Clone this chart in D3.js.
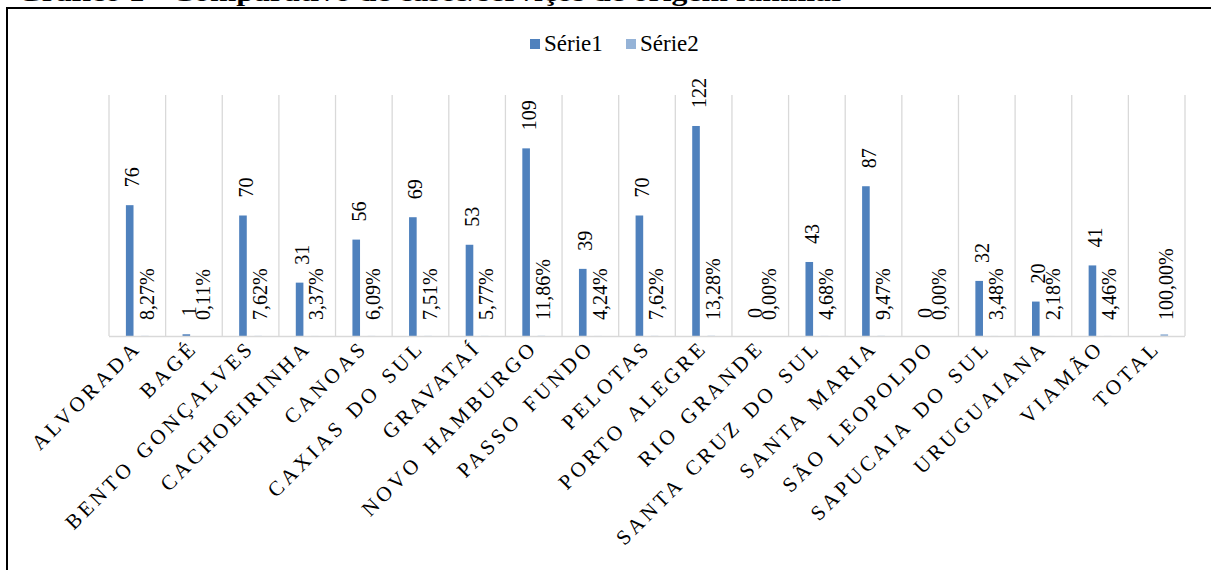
<!DOCTYPE html>
<html><head><meta charset="utf-8">
<script src="https://cdn.jsdelivr.net/npm/d3@7"></script>
<style>html,body{margin:0;padding:0;background:#fff;overflow:hidden}svg{display:block}
text{font-family:"Liberation Serif","Times New Roman",Tinos,Times,serif}</style>
</head><body>
<script>
const categories = ["ALVORADA","BAGÉ","BENTO GONÇALVES","CACHOEIRINHA","CANOAS","CAXIAS DO SUL","GRAVATAÍ","NOVO HAMBURGO","PASSO FUNDO","PELOTAS","PORTO ALEGRE","RIO GRANDE","SANTA CRUZ DO SUL","SANTA MARIA","SÃO LEOPOLDO","SAPUCAIA DO SUL","URUGUAIANA","VIAMÃO","TOTAL"];
const serie1 = [76,1,70,31,56,69,53,109,39,70,122,0,43,87,0,32,20,41,null];
const serie2 = [0.0827,0.0011,0.0762,0.0337,0.0609,0.0751,0.0577,0.1186,0.0424,0.0762,0.1328,0,0.0468,0.0947,0,0.0348,0.0218,0.0446,1.0];
const seriesNames = ["Série1","Série2"];
const colors = ["#4F81BD","#95B3D7"];
const title = "Gráfico 1 - Comparativo de casos/serviços de origem familiar";

const W = 1211, H = 570;
const svg = d3.select("body").append("svg").attr("width", W).attr("height", H);

// cut-off title
svg.append("text").attr("x", 17).attr("y", 1)
  .attr("font-weight", "bold").attr("font-size", 26)
  .attr("textLength", 828).attr("lengthAdjust", "spacingAndGlyphs")
  .text(title);

// frame
svg.append("rect").attr("x", 7).attr("y", 8).attr("width", 1300).attr("height", 700)
  .attr("fill", "none").attr("stroke", "#000").attr("stroke-width", 2);

const x = d3.scaleBand().domain(categories).range([109, 1185]).padding(0);
const xs = d3.scaleBand().domain(seriesNames).range([0, x.bandwidth()]).paddingInner(0.5).paddingOuter(1.11);
const y = d3.scaleLinear().domain([0, 140]).range([336, 95]);

// gridlines (category separators)
const edges = categories.map(c => x(c)).concat([x(categories[categories.length-1]) + x.bandwidth()]);
svg.append("g").selectAll("line").data(edges).join("line")
  .attr("x1", d => d).attr("x2", d => d).attr("y1", y(140)).attr("y2", y(0))
  .attr("stroke", "#D9D9D9").attr("stroke-width", 1.3);

// bars
const rows = categories.map((c, i) => ({c, v1: serie1[i], v2: serie2[i]}));
const g = svg.append("g");
g.selectAll("rect.s1").data(rows.filter(d => d.v1 !== null)).join("rect")
  .attr("x", d => x(d.c) + xs("Série1")).attr("width", xs.bandwidth())
  .attr("y", d => y(d.v1)).attr("height", d => y(0) - y(d.v1)).attr("fill", colors[0]);
g.selectAll("rect.s2").data(rows).join("rect")
  .attr("x", d => x(d.c) + xs("Série2")).attr("width", xs.bandwidth())
  .attr("y", d => y(d.v2)).attr("height", d => y(0) - y(d.v2)).attr("fill", colors[1]);

// axis line
svg.append("line").attr("x1", 109).attr("x2", 1185).attr("y1", y(0) + 0.5).attr("y2", y(0) + 0.5)
  .attr("stroke", "#D9D9D9").attr("stroke-width", 1.5);

// value labels série1
svg.append("g").selectAll("text").data(rows.filter(d => d.v1 !== null)).join("text")
  .attr("transform", d => `translate(${x(d.c) + xs("Série1") + xs.bandwidth()/2 + 3},${y(d.v1) - 18}) rotate(-90)`)
  .attr("dy", "0.33em")
  .attr("font-size", 20).attr("fill", "#000")
  .text(d => d.v1);

// percent labels série2
const fmt = v => (v * 100).toFixed(2).replace(".", ",") + "%";
svg.append("g").selectAll("text").data(rows).join("text")
  .attr("transform", d => `translate(${x(d.c) + xs("Série2") + xs.bandwidth()/2 + 2},${320}) rotate(-90)`)
  .attr("dy", "0.33em")
  .attr("font-size", 20).attr("fill", "#000")
  .text(d => fmt(d.v2));

// category labels
svg.append("g").selectAll("text").data(categories).join("text")
  .attr("transform", c => `translate(${x(c) + x.bandwidth()/2 + 5},${349}) rotate(-45)`)
  .attr("text-anchor", "end")
  .attr("font-size", 21).attr("letter-spacing", 3.6).attr("word-spacing", 3).attr("fill", "#000")
  .text(c => c);

// legend
const leg = svg.append("g");
const legX = [530, 626];
seriesNames.forEach((s, i) => {
  leg.append("rect").attr("x", legX[i]).attr("y", 39).attr("width", 10).attr("height", 10).attr("fill", colors[i]);
  leg.append("text").attr("x", legX[i] + 14).attr("y", 51)
    .attr("font-size", 23).attr("fill", "#000").text(s);
});
</script>
</body></html>
